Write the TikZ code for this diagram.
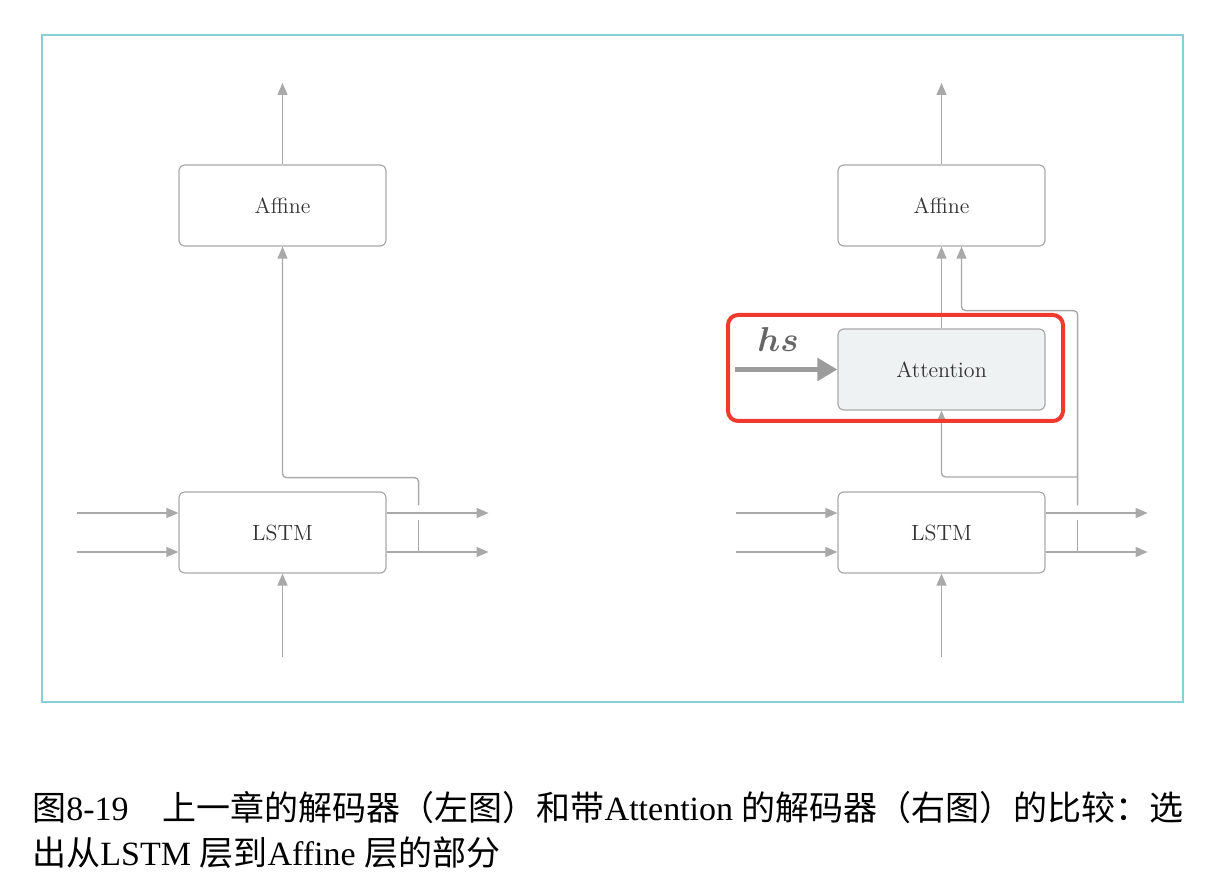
\documentclass[tikz,border=0pt]{standalone}
\usepackage{fontspec}
\usepackage{bm}
\newfontfamily\cjk{Noto Sans CJK SC}
\newfontfamily\capfont{Liberation Serif}
\usetikzlibrary{arrows.meta,calc}

\definecolor{linegray}{HTML}{A9A9A9}
\definecolor{hsgray}{HTML}{9C9C9C}
\definecolor{framecyan}{HTML}{86D0D6}
\definecolor{attfill}{HTML}{EEF2F2}
\definecolor{markred}{HTML}{F03A2E}

\tikzset{
  box/.style={draw=linegray, line width=0.6pt, rounded corners=3pt, fill=white,
    minimum width=103.5pt, minimum height=40.5pt, inner sep=0pt,
    font=\fontsize{11}{13}\selectfont, text=black!80},
  flow/.style={draw=linegray, line width=0.7pt, -{Triangle[length=6pt,width=5pt]}},
  wire/.style={draw=linegray, line width=0.7pt, rounded corners=2pt},
  hsarrow/.style={draw=hsgray, line width=2.5pt, -{Triangle[length=10pt,width=11pt]}},
  capline/.style={anchor=west, inner sep=0pt, font=\capfont\fontsize{17}{20}\selectfont}
}

\begin{document}
\begin{tikzpicture}[x=0.5pt, y=-0.5pt]

\useasboundingbox (0,0) rectangle (1226,892);
\draw[framecyan, line width=1pt] (42,35) rectangle (1183,702);

% left: decoder of the previous chapter
\node[box] (laff) at (282.5,205.5) {Affine};
\node[box] (llstm) at (282.5,532.5) {LSTM};
\coordinate (lout) at (282.5,83);
\coordinate (lin) at (282.5,657);
\draw[flow] (laff.north) -- (lout);
\draw[flow] (lin) -- (llstm.south);
\foreach \dy in {-19.5,19.5} {
  \draw[flow] ($(llstm.west)+(-101,\dy)$) -- ($(llstm.west)+(0,\dy)$);
  \draw[flow] ($(llstm.east)+(0,\dy)$) -- ($(llstm.east)+(102,\dy)$);
}
\draw[wire] ($(llstm.east)+(32,19.5)$) -- ($(llstm.east)+(32,-12)$);
\draw[wire,flow] ($(llstm.east)+(32,-27)$) |- ($(laff.south)+(0,231)$) -- (laff.south);

% right: decoder with Attention
\node[box] (raff) at (941.5,205.5) {Affine};
\node[box, fill=attfill] (ratt) at (941.5,369.5) {Attention};
\node[box] (rlstm) at (941.5,532.5) {LSTM};
\coordinate (rout) at (941.5,83);
\coordinate (rin) at (941.5,657);
\draw[flow] (raff.north) -- (rout);
\draw[flow] (rin) -- (rlstm.south);
\draw[flow] (ratt.north) -- (raff.south);
\foreach \dy in {-19.5,19.5} {
  \draw[flow] ($(rlstm.west)+(-101,\dy)$) -- ($(rlstm.west)+(0,\dy)$);
  \draw[flow] ($(rlstm.east)+(0,\dy)$) -- ($(rlstm.east)+(102,\dy)$);
}
\draw[wire] ($(rlstm.east)+(32,19.5)$) -- ($(rlstm.east)+(32,-12)$);
\draw[wire,flow] ($(rlstm.east)+(32,-27)$) |- ($(raff.south)+(20,64)$) -- ($(raff.south)+(20,0)$);
\draw[wire,flow] ($(rlstm.east)+(32,-55.5)$) -| (ratt.south);

% hs input and highlight
\coordinate (hsin) at (735,369.5);
\draw[hsarrow] (hsin) -- (ratt.west);
\node[text=black!60, font=\fontsize{18}{20}\selectfont] (hs) at (778,340) {$\bm{hs}$};
\draw[markred, line width=2pt, rounded corners=5pt] (728,315) rectangle (1063,421);

% caption
\node[capline] (cap1) at (32,808) {{\cjk 图}8-19\hspace{1em}{\cjk 上一章的解码器（左图）和带}Attention {\cjk 的解码器（右图）的比较：选}};
\node[capline] (cap2) at (32,853) {{\cjk 出从}LSTM {\cjk 层到}Affine {\cjk 层的部分}};

\end{tikzpicture}
\end{document}
